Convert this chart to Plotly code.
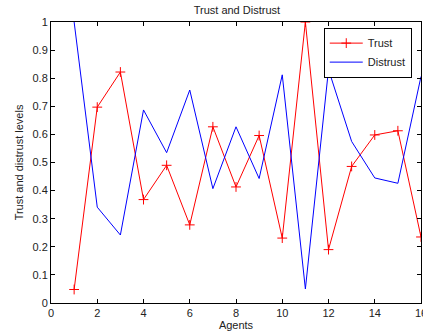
import plotly.graph_objects as go

agents = list(range(1, 17))
trust = [0.048, 0.697, 0.822, 0.368, 0.49, 0.278, 0.627, 0.413, 0.596, 0.231, 1.0, 0.19, 0.486, 0.598, 0.613, 0.235]
distrust = [1.0, 0.341, 0.242, 0.687, 0.535, 0.758, 0.407, 0.627, 0.443, 0.812, 0.05, 0.831, 0.575, 0.445, 0.426, 0.806]

x_ticks = list(range(0, 17, 2))
y_ticks = [i / 10 for i in range(11)]
y_labels = ["0", "0.1", "0.2", "0.3", "0.4", "0.5", "0.6", "0.7", "0.8", "0.9", "1"]

FONT = "Liberation Sans, Arial"

fig = go.Figure()
fig.add_trace(go.Scatter(x=agents, y=trust, mode="lines+markers", name="Trust",
                         line=dict(color="#ff0000", width=1),
                         marker=dict(symbol="cross-thin", size=7, line=dict(color="#ff0000", width=1)),
                         cliponaxis=True))
fig.add_trace(go.Scatter(x=agents, y=distrust, mode="lines", name="Distrust",
                         line=dict(color="#0000ff", width=1), cliponaxis=True))

axis_common = dict(showline=True, linecolor="black", linewidth=1, mirror="ticks",
                   ticks="inside", ticklen=4, tickcolor="black", showgrid=False,
                   zeroline=False, ticklabeloverflow="allow", automargin=False,
                   tickfont=dict(family=FONT, size=11, color="#222"))

fig.update_xaxes(range=[0, 16], tickvals=x_ticks, ticktext=[str(v) for v in x_ticks],
                 title=dict(text="Agents", standoff=3, font=dict(family=FONT, size=11, color="#222")),
                 **axis_common)
fig.update_yaxes(range=[0, 1], tickvals=y_ticks, ticktext=y_labels,
                 title=dict(text="Trust and distrust levels", standoff=6, font=dict(family=FONT, size=11, color="#222")),
                 **axis_common)

fig.update_layout(
    width=423, height=334,
    margin=dict(l=51, r=2, t=22, b=31),
    paper_bgcolor="white", plot_bgcolor="white",
    title=dict(text="Trust and Distrust", x=0.56, xanchor="center", y=0.97, yanchor="middle",
               font=dict(family=FONT, size=11, color="#222")),
    legend=dict(x=0.975, y=0.98, xanchor="right", yanchor="top", bordercolor="black", borderwidth=1,
                bgcolor="white", font=dict(family=FONT, size=11, color="#222"),
                tracegroupgap=0, itemwidth=33),
    showlegend=True,
)

fig.write_html("out.html", config={"displayModeBar": False},
               post_script="document.body.style.margin='0';document.body.style.overflow='hidden';")
